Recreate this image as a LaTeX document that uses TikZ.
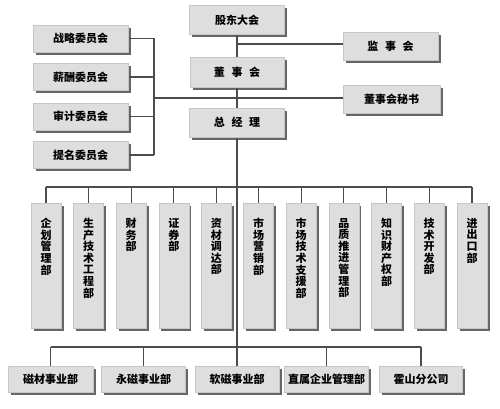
\documentclass[tikz,border=0pt]{standalone}
\usepackage{fontspec}
\setmainfont{Noto Sans CJK SC}
\usetikzlibrary{shadows}
\pgfdeclarelayer{bg}
\pgfdeclarelayer{lines}
\pgfsetlayers{bg,lines,main}
\tikzset{
  box/.style={fill=gray!26, draw=gray!45, line width=0.3pt, inner sep=0pt,
    drop shadow={shadow xshift=2.6pt, shadow yshift=-2.6pt, fill=black!70, opacity=0.85},
    font=\fontsize{11}{12}\selectfont\bfseries},
  link/.style={draw=black!70, line width=1.1pt},
}
\newcommand{\vtext}[1]{\parbox[t][125pt][t]{30pt}{\vspace*{15pt}\centering\fontsize{11}{11.6}\selectfont\bfseries #1}}
\begin{document}
\begin{tikzpicture}[x=1pt,y=-1pt]
\begin{pgfonlayer}{bg}
\fill[white] (0,0) rectangle (500,409);
\end{pgfonlayer}
\useasboundingbox (0,0) rectangle (500,409);
% top boxes
\node[box, minimum width=95pt, minimum height=29pt] (gd) at (237,20) {股东大会};
\node[box, minimum width=94pt, minimum height=30pt] (ds) at (237,72) {董\hspace{0.6em}事\hspace{0.6em}会};
\node[box, minimum width=95pt, minimum height=29pt] (zj) at (237,122.5) {总\hspace{0.6em}经\hspace{0.6em}理};
\node[box, minimum width=95pt, minimum height=28pt] (js) at (390.5,46) {监\hspace{0.6em}事\hspace{0.6em}会};
\node[box, minimum width=97pt, minimum height=28pt] (ms) at (391.5,99) {董事会秘书};
% committees
\node[box, minimum width=95pt, minimum height=27pt] (c1) at (80.5,38.5) {战略委员会};
\node[box, minimum width=95pt, minimum height=27pt] (c2) at (80.5,77) {薪酬委员会};
\node[box, minimum width=95pt, minimum height=27pt] (c3) at (80.5,116.5) {审计委员会};
\node[box, minimum width=95pt, minimum height=27pt] (c4) at (80.5,155) {提名委员会};
\coordinate (bt) at (154,38.5);
\coordinate (bb) at (154,155);
\coordinate (bm) at (154,98);
% departments
\foreach \i/\x/\t in {1/46/{企\\划\\管\\理\\部},
                      2/88.6/{生\\产\\技\\术\\工\\程\\部},
                      3/131.2/{财\\务\\部},
                      4/173.8/{证\\券\\部},
                      5/216.4/{资\\材\\调\\达\\部},
                      6/258.6/{市\\场\\营\\销\\部},
                      7/301.2/{市\\场\\技\\术\\支\\援\\部},
                      8/343.8/{品\\质\\推\\进\\管\\理\\部},
                      9/386.6/{知\\识\\财\\产\\权\\部},
                      10/429.2/{技\\术\\开\\发\\部},
                      11/472/{进\\出\\口\\部}}{
  \node[box, anchor=north] (d\i) at (\x,203) {\vtext{\t}};
}
\coordinate (dl) at (237,187);
% business units
\node[box, minimum width=85pt, minimum height=26pt] (b1) at (50.5,379) {磁材事业部};
\node[box, minimum width=84pt, minimum height=26pt] (b2) at (143.5,379) {永磁事业部};
\node[box, minimum width=84pt, minimum height=26pt] (b3) at (237,379) {软磁事业部};
\node[box, minimum width=84pt, minimum height=26pt] (b4) at (326.5,379) {直属企业管理部};
\node[box, minimum width=83pt, minimum height=26pt] (b5) at (421,379) {霍山分公司};
\coordinate (bl) at (237,347);
% connectors
\begin{pgfonlayer}{lines}
\draw[link] (gd.south) -- (b3.north);
\draw[link] (js.west |- 0,44) -- (gd.south |- 0,44);
\draw[link] (bm) -- (ms.west |- bm);
\foreach \c in {c1,c2,c3,c4} \draw[link] (\c.east) -- (bt |- \c.east);
\draw[link] (bt) -- (bb);
\draw[link] (d1.north |- dl) -- (d11.north |- dl);
\foreach \i in {1,...,11} \draw[link] (d\i.north |- dl) -- (d\i.north);
\draw[link] (b1.north |- bl) -- (b5.north |- bl);
\foreach \i in {1,2,4,5} \draw[link] (b\i.north |- bl) -- (b\i.north);
\end{pgfonlayer}
\end{tikzpicture}
\end{document}
